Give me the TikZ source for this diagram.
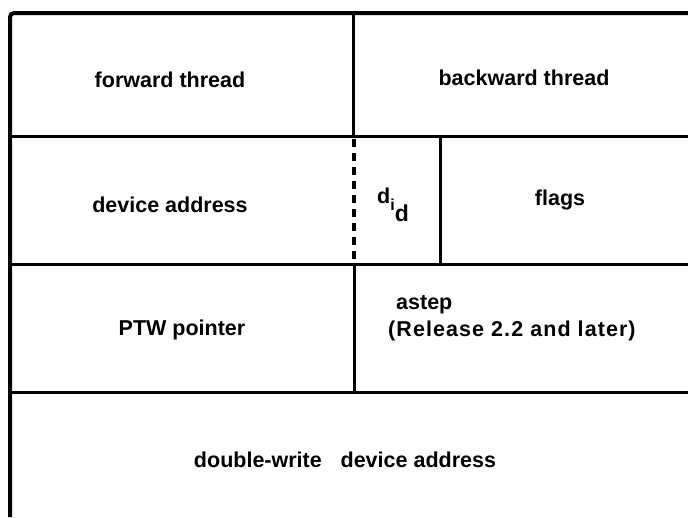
\documentclass[tikz,border=0pt]{standalone}
\usepackage{fontspec}
\setmainfont{Liberation Sans}
\begin{document}
\begin{tikzpicture}[x=1pt,y=-1pt,
  rule/.style={line width=3pt},
  border/.style={line width=4pt,rounded corners=4pt},
  dashrule/.style={line width=3.5pt,dash pattern=on 8pt off 6pt},
  lbl/.style={font=\fontsize{21.5}{25}\selectfont\bfseries,inner sep=0pt}]
\useasboundingbox (0,0) rectangle (688,517);
% frame
\draw[border] (10,517) -- (10,13) -- (688,13);
\draw[rule] (8,136) -- (688,136);
\draw[rule] (8,264) -- (688,264);
\draw[rule] (8,392) -- (688,392);
% dividers
\draw[rule] (353,13) -- (353,136);
\draw[dashrule] (354,139) -- (354,264);
\draw[rule] (440,136) -- (440,264);
\draw[rule] (354,264) -- (354,392);
% labels
\node[lbl] (fwd) at (170,80) {forward thread};
\node[lbl] (bwd) at (524,78) {backward thread};
\node[lbl] (dev) at (170,205) {device address};
\node[lbl,anchor=base west] (did) at (377,203) {d\raisebox{-7pt}{\fontsize{16}{18}\selectfont i}\raisebox{-18pt}{\fontsize{23}{25}\selectfont d}};
\node[lbl] (flags) at (560,200) {flags};
\node[lbl] (ptw) at (182,330) {PTW pointer};
\node[lbl,anchor=base west] (astep) at (396,309) {astep};
\node[lbl,anchor=base west] (rel) at (388,336) {\addfontfeature{LetterSpace=5}(Release 2.2 and later)};
\node[lbl] (dw) at (345,460) {double-write\hspace{0.6em} device address};
\end{tikzpicture}
\end{document}
